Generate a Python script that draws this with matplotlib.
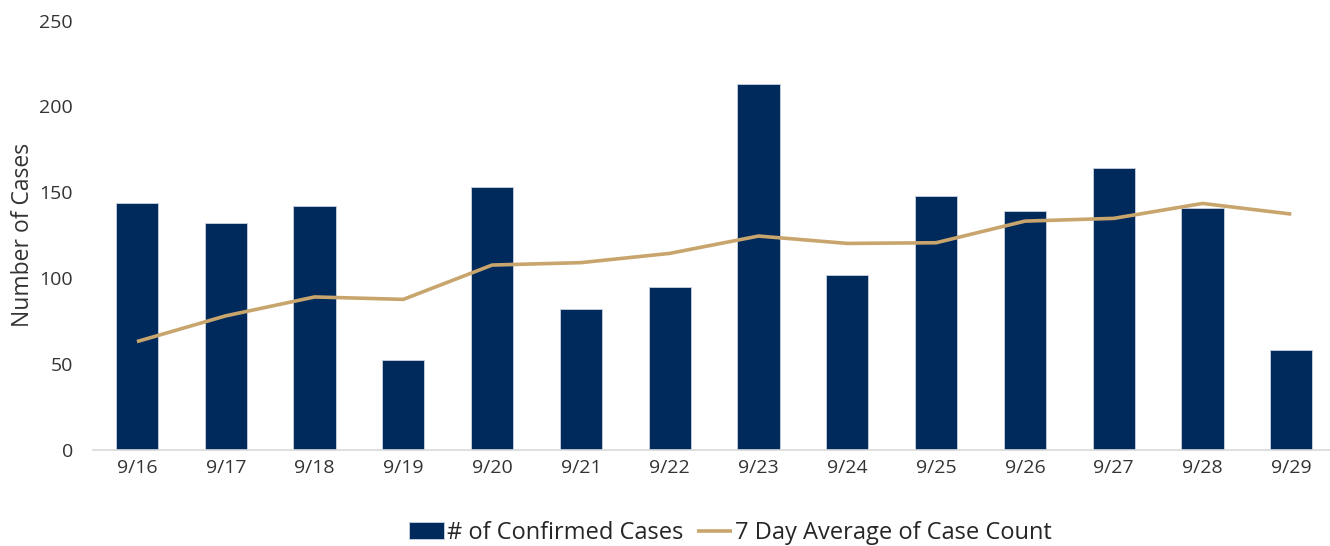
import matplotlib
matplotlib.use("Agg")
import matplotlib.pyplot as plt

dates = ["9/16", "9/17", "9/18", "9/19", "9/20", "9/21", "9/22",
         "9/23", "9/24", "9/25", "9/26", "9/27", "9/28", "9/29"]
confirmed = [144, 132, 142, 52, 153, 82, 95, 213, 102, 148, 139, 164, 141, 58]
avg7 = [63, 78, 89, 87.6, 107.6, 109, 114.4, 124.5, 120.2, 120.6, 133.2, 134.8, 143.5, 137.3]
yticks = [0, 50, 100, 150, 200, 250]

plt.rcParams['font.family'] = ['Open Sans', 'DejaVu Sans']
fig = plt.figure(figsize=(13.3, 5.46), dpi=100)
ax = fig.add_axes([0.0696, 0.1764, 0.9347, 0.7857])

x = list(range(len(dates)))
bars = ax.bar(x, confirmed, width=0.475, color="#002A5C", edgecolor="#c8d2e0",
              linewidth=0.6, label="# of Confirmed Cases", zorder=2)
line, = ax.plot(x, avg7, color="#C9A56E", linewidth=2.6, label="7 Day Average of Case Count",
                zorder=3, solid_capstyle='butt')

ax.set_xlim(-0.5, len(dates) - 0.5)
ax.set_ylim(0, 250)
ax.set_yticks(yticks)
ax.set_xticks(x)
ax.set_xticklabels(dates)
ax.tick_params(axis='both', length=0, labelsize=14, colors="#333333")
ax.tick_params(axis='y', pad=14)
ax.tick_params(axis='x', pad=7)
for s in ['top', 'right', 'left']:
    ax.spines[s].set_visible(False)
ax.spines['bottom'].set_color("#d9d9d9")
ax.spines['bottom'].set_linewidth(1.2)

ax.set_ylabel("Number of Cases", fontsize=16.5, color="#333333")
ax.yaxis.set_label_coords(-0.046, 0.5)

leg = fig.legend(handles=[bars, line], loc='center', bbox_to_anchor=(0.549, 0.024),
                 ncol=2, frameon=False, fontsize=17, handlelength=1.5, handletextpad=0.1,
                 columnspacing=0.6, labelcolor="#262626")

fig.savefig("out.png", dpi=100)
